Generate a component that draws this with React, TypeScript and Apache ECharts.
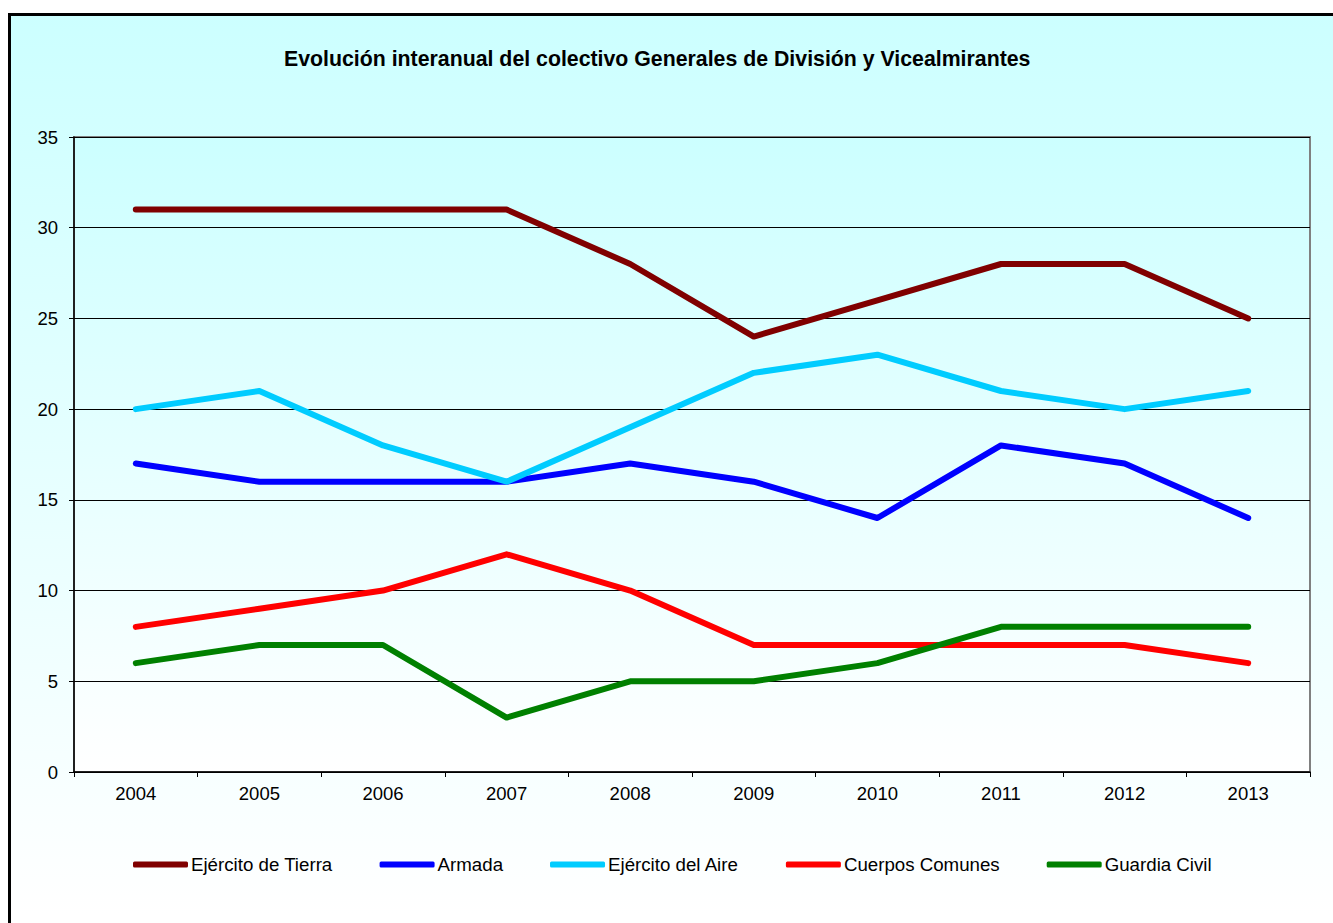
import React, { useEffect, useRef } from "react";
import * as echarts from "echarts";

const years = ["2004", "2005", "2006", "2007", "2008", "2009", "2010", "2011", "2012", "2013"];
const tierra = [31, 31, 31, 31, 28, 24, 26, 28, 28, 25];
const armada = [17, 16, 16, 16, 17, 16, 14, 18, 17, 14];
const aire = [20, 21, 18, 16, 19, 22, 23, 21, 20, 21];
const comunes = [8, 9, 10, 12, 10, 7, 7, 7, 7, 6];
const guardia = [6, 7, 7, 3, 5, 5, 6, 8, 8, 8];

const seriesDefs = [
  { name: "Ejército de Tierra", data: tierra, color: "#800000" },
  { name: "Armada", data: armada, color: "#0000FF" },
  { name: "Ejército del Aire", data: aire, color: "#00CCFF" },
  { name: "Cuerpos Comunes", data: comunes, color: "#FF0000" },
  { name: "Guardia Civil", data: guardia, color: "#008000" },
];

const FONT = "'Liberation Sans', Arial, sans-serif";

export default function App() {
  const ref = useRef<HTMLDivElement>(null);
  useEffect(() => {
    const chart = echarts.init(ref.current!, null, { renderer: "svg" });
    chart.setOption({
      animation: false,
      backgroundColor: "#ffffff",
      graphic: [
        {
          type: "rect",
          z: -10,
          silent: true,
          shape: { x: 9.5, y: 14.5, width: 1400, height: 1000 },
          style: {
            fill: new echarts.graphic.LinearGradient(0, 0, 0, 1, [
              { offset: 0, color: "#CCFFFF" },
              { offset: 0.9, color: "#FFFFFF" },
              { offset: 1, color: "#FFFFFF" },
            ]),
            stroke: "#000000",
            lineWidth: 3,
          },
        },
      ],
      title: {
        text: "Evolución interanual del colectivo Generales de División y Vicealmirantes",
        left: 284,
        top: 48,
        padding: 0,
        textStyle: { fontFamily: FONT, fontSize: 21.3, fontWeight: "bold", color: "#000" },
      },
      legend: {
        left: 133,
        top: 855,
        padding: 0,
        itemWidth: 55,
        itemHeight: 6,
        itemGap: 47,
        icon: "roundRect",
        textStyle: { fontFamily: FONT, fontSize: 18.7, color: "#000", padding: [0, 0, 0, -2] },
        data: seriesDefs.map((s) => s.name),
      },
      grid: {
        left: 74,
        right: 23,
        top: 137,
        bottom: 151,
        show: true,
        borderWidth: 2,
        borderColor: "#808080",
        backgroundColor: new echarts.graphic.LinearGradient(0, 0, 0, 1, [
          { offset: 0, color: "#CCFFFF" },
          { offset: 1, color: "#FFFFFF" },
        ]),
      },
      xAxis: {
        type: "category",
        data: years,
        boundaryGap: true,
        axisLine: { lineStyle: { color: "#000", width: 1.5 } },
        axisTick: { show: true, length: 5, lineStyle: { color: "#000" } },
        axisLabel: { fontFamily: FONT, fontSize: 18.5, color: "#000", margin: 12 },
      },
      yAxis: {
        type: "value",
        min: 0,
        max: 35,
        interval: 5,
        axisLine: { show: true, lineStyle: { color: "#000", width: 1.5 } },
        axisTick: { show: true, length: 5, lineStyle: { color: "#000" } },
        axisLabel: { fontFamily: FONT, fontSize: 18.5, color: "#000", margin: 16 },
        splitLine: { show: true, lineStyle: { color: "#000", width: 1 } },
      },
      series: seriesDefs.map((s) => ({
        name: s.name,
        type: "line",
        data: s.data,
        showSymbol: false,
        symbol: "none",
        color: s.color,
        lineStyle: { color: s.color, width: 6, cap: "round", join: "round" },
        itemStyle: { color: s.color },
      })),
    });
    return () => chart.dispose();
  }, []);
  return (
    <div
      ref={ref}
      style={{ position: "absolute", left: 0, top: 0, width: 1333, height: 923 }}
    />
  );
}
